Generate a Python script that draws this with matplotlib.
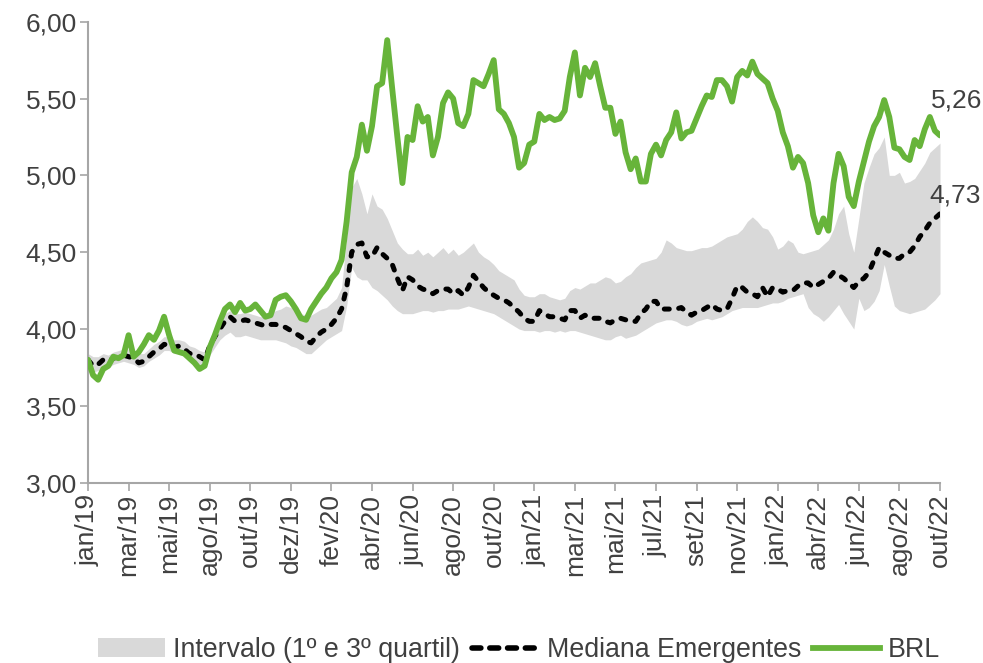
import numpy as np
import matplotlib
matplotlib.use("Agg")
import matplotlib.pyplot as plt
from matplotlib.patches import Patch
from matplotlib.lines import Line2D

plt.rcParams['font.family'] = ['Liberation Sans', 'DejaVu Sans']

tick_labels = ["jan/19", "mar/19", "mai/19", "ago/19", "out/19", "dez/19", "fev/20",
               "abr/20", "jun/20", "ago/20", "out/20", "jan/21", "mar/21", "mai/21",
               "jul/21", "set/21", "nov/21", "jan/22", "abr/22", "jun/22", "ago/22", "out/22"]

brl = [3.80, 3.70, 3.67, 3.74, 3.76, 3.82, 3.81, 3.83,
       3.96, 3.82, 3.85, 3.90, 3.96, 3.93, 3.99, 4.08,
       3.96, 3.86, 3.85, 3.84, 3.81, 3.78, 3.74, 3.76,
       3.88, 3.96, 4.05, 4.13, 4.16, 4.11, 4.17, 4.12,
       4.13, 4.16, 4.12, 4.08, 4.09, 4.19, 4.21, 4.22,
       4.18, 4.13, 4.07, 4.06, 4.13, 4.18, 4.23, 4.27,
       4.33, 4.37, 4.45, 4.70, 5.02, 5.12, 5.33, 5.16,
       5.32, 5.58, 5.60, 5.88, 5.56, 5.25, 4.95, 5.25,
       5.23, 5.45, 5.35, 5.38, 5.13, 5.25, 5.47, 5.54,
       5.50, 5.34, 5.32, 5.40, 5.62, 5.60, 5.58, 5.66,
       5.75, 5.43, 5.40, 5.34, 5.25, 5.05, 5.08, 5.20,
       5.22, 5.40, 5.36, 5.38, 5.36, 5.37, 5.42, 5.64,
       5.80, 5.52, 5.70, 5.64, 5.73, 5.58, 5.44, 5.44,
       5.27, 5.35, 5.15, 5.04, 5.11, 4.96, 4.96, 5.14,
       5.20, 5.13, 5.23, 5.28, 5.41, 5.24, 5.28, 5.29,
       5.37, 5.45, 5.52, 5.51, 5.62, 5.62, 5.58, 5.48,
       5.64, 5.68, 5.65, 5.74, 5.66, 5.63, 5.60, 5.50,
       5.42, 5.28, 5.19, 5.05, 5.12, 5.08, 4.95, 4.74,
       4.63, 4.72, 4.64, 4.95, 5.14, 5.06, 4.86, 4.80,
       4.96, 5.09, 5.22, 5.32, 5.38, 5.49, 5.38, 5.18,
       5.17, 5.12, 5.10, 5.23, 5.19, 5.30, 5.38, 5.29, 5.26]

median = [3.80, 3.76, 3.77, 3.80, 3.79, 3.81, 3.82, 3.83,
          3.82, 3.81, 3.78, 3.79, 3.82, 3.85, 3.87, 3.90,
          3.90, 3.88, 3.89, 3.87, 3.84, 3.84, 3.82, 3.80,
          3.89, 3.95, 4.00, 4.05, 4.08, 4.05, 4.05, 4.06,
          4.05, 4.04, 4.03, 4.02, 4.03, 4.03, 4.02, 4.01,
          3.99, 3.97, 3.95, 3.92, 3.91, 3.95, 3.98, 4.00,
          4.03, 4.07, 4.13, 4.27, 4.50, 4.55, 4.56, 4.47,
          4.47, 4.53, 4.49, 4.46, 4.42, 4.33, 4.25, 4.34,
          4.32, 4.28, 4.26, 4.25, 4.23, 4.25, 4.26, 4.26,
          4.23, 4.25, 4.22, 4.27, 4.35, 4.31, 4.27, 4.24,
          4.22, 4.20, 4.19, 4.17, 4.14, 4.11, 4.07, 4.05,
          4.05, 4.12, 4.10, 4.08, 4.08, 4.07, 4.06, 4.12,
          4.12, 4.07, 4.09, 4.07, 4.07, 4.07, 4.05, 4.04,
          4.06, 4.07, 4.06, 4.05, 4.05, 4.10, 4.13, 4.18,
          4.18, 4.13, 4.13, 4.13, 4.13, 4.14, 4.11, 4.09,
          4.11, 4.12, 4.14, 4.16, 4.13, 4.12, 4.13, 4.20,
          4.28, 4.27, 4.24, 4.23, 4.21, 4.27, 4.21, 4.27,
          4.26, 4.24, 4.25, 4.25, 4.28, 4.30, 4.30, 4.27,
          4.29, 4.31, 4.33, 4.37, 4.35, 4.33, 4.30, 4.27,
          4.31, 4.33, 4.37, 4.45, 4.53, 4.50, 4.48, 4.46,
          4.46, 4.49, 4.50, 4.54, 4.60, 4.64, 4.69, 4.72, 4.75]

q1 = [3.75, 3.72, 3.73, 3.75, 3.75, 3.77, 3.78, 3.79,
      3.78, 3.77, 3.75, 3.76, 3.79, 3.81, 3.83, 3.86,
      3.86, 3.84, 3.84, 3.83, 3.80, 3.79, 3.77, 3.76,
      3.83, 3.88, 3.93, 3.96, 3.98, 3.95, 3.95, 3.96,
      3.95, 3.94, 3.93, 3.93, 3.93, 3.93, 3.92, 3.91,
      3.89, 3.88, 3.86, 3.84, 3.84, 3.87, 3.90, 3.93,
      3.95, 3.97, 3.99, 4.15, 4.40, 4.34, 4.32, 4.32,
      4.27, 4.25, 4.22, 4.19, 4.15, 4.12, 4.10, 4.10,
      4.10, 4.11, 4.12, 4.12, 4.11, 4.12, 4.12, 4.13,
      4.13, 4.13, 4.14, 4.15, 4.14, 4.13, 4.12, 4.11,
      4.10, 4.08, 4.06, 4.04, 4.02, 4.00, 3.99, 3.99,
      3.99, 3.98, 3.99, 3.99, 3.98, 3.99, 3.98, 3.99,
      3.99, 3.98, 3.97, 3.96, 3.95, 3.94, 3.93, 3.93,
      3.95, 3.96, 3.94, 3.95, 3.96, 3.98, 4.00, 4.02,
      4.04, 4.05, 4.06, 4.06, 4.05, 4.03, 4.02, 4.03,
      4.05, 4.06, 4.07, 4.06, 4.07, 4.08, 4.10, 4.12,
      4.13, 4.14, 4.14, 4.14, 4.14, 4.15, 4.16, 4.17,
      4.17, 4.18, 4.20, 4.21, 4.22, 4.23, 4.14, 4.10,
      4.08, 4.05, 4.08, 4.12, 4.16, 4.10, 4.05, 4.00,
      4.20, 4.12, 4.14, 4.18, 4.25, 4.42, 4.28, 4.15,
      4.12, 4.11, 4.10, 4.11, 4.12, 4.13, 4.16, 4.19, 4.23]

q3 = [3.84, 3.82, 3.82, 3.84, 3.83, 3.85, 3.86, 3.87,
      3.87, 3.86, 3.84, 3.84, 3.87, 3.90, 3.92, 3.95,
      3.95, 3.93, 3.93, 3.92, 3.89, 3.88, 3.86, 3.85,
      3.94, 4.00, 4.05, 4.10, 4.12, 4.10, 4.10, 4.11,
      4.10, 4.09, 4.08, 4.08, 4.10, 4.12, 4.13, 4.15,
      4.14, 4.12, 4.10, 4.09, 4.09, 4.11, 4.13, 4.14,
      4.17, 4.20, 4.27, 4.60, 4.92, 4.98, 4.88, 4.75,
      4.88, 4.80, 4.78, 4.72, 4.64, 4.56, 4.52, 4.49,
      4.49, 4.52, 4.48, 4.50, 4.47, 4.50, 4.53, 4.49,
      4.52, 4.48, 4.50, 4.53, 4.56, 4.50, 4.47, 4.45,
      4.42, 4.38, 4.36, 4.34, 4.32, 4.26, 4.22, 4.21,
      4.21, 4.23, 4.23, 4.21, 4.20, 4.19, 4.20, 4.25,
      4.27, 4.26, 4.28, 4.30, 4.30, 4.32, 4.34, 4.33,
      4.30, 4.31, 4.34, 4.36, 4.40, 4.43, 4.44, 4.45,
      4.46, 4.50, 4.58, 4.56, 4.53, 4.52, 4.51, 4.51,
      4.52, 4.53, 4.53, 4.54, 4.56, 4.58, 4.60, 4.61,
      4.62, 4.65, 4.70, 4.73, 4.70, 4.66, 4.65, 4.60,
      4.52, 4.54, 4.58, 4.56, 4.50, 4.49, 4.50, 4.51,
      4.52, 4.55, 4.58, 4.65, 4.75, 4.80, 4.62, 4.50,
      4.72, 4.95, 5.05, 5.14, 5.18, 5.25, 5.00, 5.00,
      5.02, 4.95, 4.96, 4.98, 5.03, 5.08, 5.15, 5.18, 5.21]

GREEN = '#67b43a'
GRAY_BAND = '#d9d9d9'
TEXT = '#404040'
SPINE = '#a6a6a6'
FS = 19

n = len(brl)
x = np.arange(n)

fig = plt.figure(figsize=(9.83, 6.63), dpi=100)
W, H = 983, 663
ax = fig.add_axes([88 / W, 1 - 482.7 / H, (940 - 88) / W, (482.7 - 21.7) / H])

MED_DASH = (1.0, 1.9)
ax.fill_between(x, q1, q3, color=GRAY_BAND, lw=0, zorder=1)
ax.plot(x, median, color='black', lw=3.6, dashes=MED_DASH, dash_capstyle='round', zorder=2)
ax.plot(x, brl, color=GREEN, lw=4.2, solid_joinstyle='round', solid_capstyle='round', zorder=3)

ax.set_xlim(0, n - 1)
ax.set_ylim(3.0, 6.0)

xt = np.linspace(0, n - 1, len(tick_labels))
ax.set_xticks(xt)
ax.set_xticklabels(tick_labels, rotation=90, fontsize=FS, color=TEXT)
yt = np.arange(3.0, 6.01, 0.5)
ax.set_yticks(yt)
ax.set_yticklabels([f"{v:.2f}".replace('.', ',') for v in yt], fontsize=FS, color=TEXT)
ax.tick_params(axis='both', length=6, width=1.2, color=SPINE, pad=2)

for s in ['top', 'right']:
    ax.spines[s].set_visible(False)
for s in ['left', 'bottom']:
    ax.spines[s].set_color(SPINE)
    ax.spines[s].set_linewidth(1.5)

ax.text(n - 1 - 1.8, 5.49, f"{brl[-1]:.2f}".replace('.', ','), fontsize=FS, color=TEXT,
        ha='left', va='center', clip_on=False)
ax.text(n - 1 - 2.0, 4.87, "4,73", fontsize=FS, color=TEXT,
        ha='left', va='center', clip_on=False)

handles = [Patch(facecolor=GRAY_BAND, edgecolor='none'),
           Line2D([], [], color='black', lw=4.0, dashes=(1.6, 1.6), dash_capstyle='round'),
           Line2D([], [], color=GREEN, lw=4.2)]
labels = ["Intervalo (1º e 3º quartil)", "Mediana Emergentes", "BRL"]
fig.legend(handles, labels, loc='center', bbox_to_anchor=(0.528, 1 - 650 / H), ncol=3,
           frameon=False, fontsize=19.3, handlelength=2.5, handletextpad=0.3,
           columnspacing=0.45, labelcolor=TEXT)

fig.savefig('out.png', dpi=100)
